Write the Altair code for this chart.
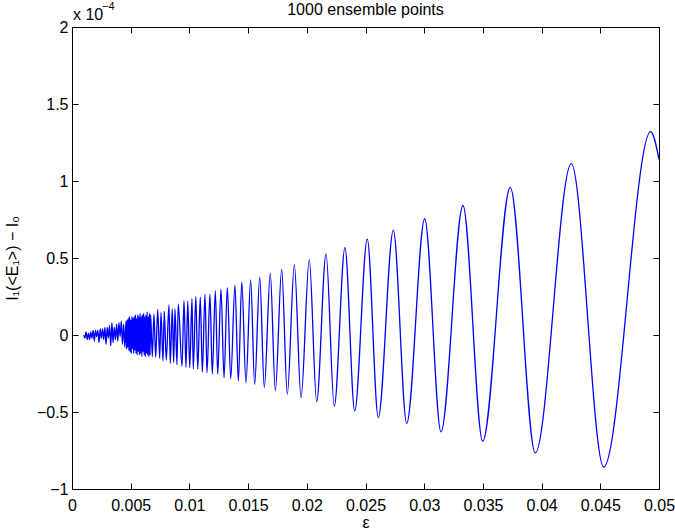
import altair as alt
import pandas as pd

# ---- data (values in units of 1e-4) ----
# irregular, aliased start of the curve
eps_left = [0.0010, 0.0011, 0.0012, 0.0013, 0.0014, 0.0015, 0.0016, 0.0017, 0.0018, 0.0019,
            0.0020, 0.0021, 0.0022, 0.0023, 0.0024, 0.0025, 0.0026, 0.0027, 0.0028, 0.0029,
            0.0030, 0.0031, 0.0032, 0.0033, 0.0034, 0.0035, 0.0036, 0.0037, 0.0038, 0.0039,
            0.0040, 0.0041, 0.0042, 0.0043, 0.0044, 0.0045, 0.0046]
val_left = [0.00, -0.02, 0.02, -0.03, 0.01, -0.03, 0.02, -0.02, 0.03, -0.04,
            0.03, -0.01, 0.03, -0.05, 0.04, -0.02, 0.04, -0.03, 0.05, -0.06,
            0.05, -0.02, 0.06, -0.07, 0.08, -0.05, 0.05, -0.03, 0.07, -0.04,
            0.08, -0.01, 0.09, -0.06, 0.07, -0.08, 0.09]

# dense, nearly filled band
eps_band = [0.00465, 0.00470, 0.00475, 0.00480, 0.00485, 0.00490, 0.00495, 0.00500,
            0.00505, 0.00510, 0.00515, 0.00520, 0.00525, 0.00530, 0.00535, 0.00540,
            0.00545, 0.00550, 0.00555, 0.00560, 0.00565, 0.00570, 0.00575, 0.00580,
            0.00585, 0.00590, 0.00595, 0.00600, 0.00605, 0.00610, 0.00615, 0.00620,
            0.00625, 0.00630, 0.00635, 0.00640, 0.00645, 0.00650, 0.00655, 0.00660,
            0.00665, 0.00670, 0.00684]
val_band = [-0.09, 0.10, -0.08, 0.11, -0.10, 0.12, -0.11, 0.10,
            -0.12, 0.12, -0.09, 0.11, -0.12, 0.12, -0.10, 0.13,
            -0.12, 0.11, -0.13, 0.13, -0.11, 0.12, -0.13, 0.14,
            -0.12, 0.12, -0.14, 0.13, -0.11, 0.14, -0.13, 0.12,
            -0.14, 0.13, -0.12, 0.15, -0.13, 0.12, -0.14, 0.14,
            -0.13, 0.13, -0.14]

# successive peaks and troughs of the regular oscillation
eps_wave = [0.00698, 0.00713, 0.00730, 0.00747, 0.00758, 0.00775, 0.00786, 0.00803,
            0.00826, 0.00837, 0.00854, 0.00866, 0.00877, 0.00894, 0.00905, 0.00937,
            0.00954, 0.00971, 0.00986, 0.01003, 0.01022, 0.01033, 0.01055, 0.01071,
            0.01093, 0.01110, 0.01133, 0.01150, 0.01175, 0.01195, 0.01221, 0.01241,
            0.01269, 0.01295, 0.01323, 0.01352, 0.01388, 0.01417, 0.01446, 0.01482,
            0.01522, 0.01556, 0.01599, 0.01638, 0.01689, 0.01732, 0.01786, 0.01834,
            0.01894, 0.01951, 0.02021, 0.02084, 0.02164, 0.02234, 0.02325, 0.02408,
            0.02515, 0.02609, 0.02737, 0.02851, 0.03004, 0.03143, 0.03330, 0.03498,
            0.03733, 0.03946, 0.04253, 0.04529, 0.04929, 0.05000]
val_wave = [0.135, -0.145, 0.167, -0.152, 0.145, -0.167, 0.154, -0.163,
            0.195, -0.184, 0.169, -0.180, 0.169, -0.193, 0.200, -0.204,
            0.223, -0.210, 0.221, -0.213, 0.236, -0.221, 0.250, -0.223,
            0.245, -0.241, 0.265, -0.245, 0.265, -0.254, 0.288, -0.256,
            0.297, -0.278, 0.308, -0.284, 0.323, -0.299, 0.343, -0.310,
            0.358, -0.321, 0.375, -0.341, 0.401, -0.362, 0.427, -0.384,
            0.455, -0.406, 0.488, -0.432, 0.527, -0.462, 0.568, -0.494,
            0.622, -0.536, 0.681, -0.575, 0.755, -0.629, 0.841, -0.690,
            0.958, -0.766, 1.113, -0.857, 1.321, 1.140]

x_ticks = [0, 0.005, 0.01, 0.015, 0.02, 0.025, 0.03, 0.035, 0.04, 0.045, 0.05]
y_ticks = [-1, -0.5, 0, 0.5, 1, 1.5, 2]

title_text = "1000 ensemble points"
x_title = "ε"
y_title = "I₁(<E₁>) − I₀"
exponent_base = "x 10"
exponent_power = "−4"

df = pd.DataFrame({"eps": eps_left + eps_band + eps_wave,
                   "val": val_left + val_band + val_wave})

W, H = 587, 462
FONT = "Liberation Sans"
xs = alt.Scale(domain=[0, 0.05], nice=False, zero=False)
ys = alt.Scale(domain=[-1, 2], nice=False, zero=False)

main = alt.Chart(df).mark_line(color="#0000ff", strokeWidth=1.3, interpolate="monotone").encode(
    x=alt.X("eps:Q", scale=xs, axis=alt.Axis(
        orient="bottom", values=x_ticks, format="~g", title=x_title, domain=False, ticks=False,
        grid=False, labelFont=FONT, labelFontSize=16, labelColor="black", labelPadding=8,
        labelFlush=False, labelOverlap=False,
        titleFont=FONT, titleFontSize=16, titleFontWeight="normal", titleColor="black",
        titleX=W / 2, titleY=38, titleBaseline="alphabetic", titleAlign="center")),
    y=alt.Y("val:Q", scale=ys, axis=alt.Axis(
        orient="left", values=y_ticks, format="~g", title=y_title, domain=False, ticks=False,
        grid=False, labelFont=FONT, labelFontSize=16, labelColor="black", labelPadding=4,
        labelFlush=False, labelOverlap=False,
        titleFont=FONT, titleFontSize=16, titleFontWeight="normal", titleColor="black",
        titleX=-55, titleY=H / 2, titleAngle=270, titleBaseline="alphabetic", titleAlign="center")),
)

def tick_layer(xo, yo):
    return alt.Chart(df).mark_line(strokeOpacity=0).encode(
        x=alt.X("eps:Q", scale=xs, axis=alt.Axis(
            orient=xo, offset=-6, values=x_ticks, labels=False, domain=False, ticks=True,
            tickSize=6, tickColor="black", tickWidth=1, grid=False, title=None)),
        y=alt.Y("val:Q", scale=ys, axis=alt.Axis(
            orient=yo, offset=-6, values=y_ticks, labels=False, domain=False, ticks=True,
            tickSize=6, tickColor="black", tickWidth=1, grid=False, title=None)),
    )

ticks_bl = tick_layer("bottom", "left")
ticks_tr = tick_layer("top", "right")

title_mark = alt.Chart(pd.DataFrame({"t": [title_text]})).mark_text(
    font=FONT, fontSize=16, align="center", baseline="alphabetic", color="black"
).encode(text="t:N", x=alt.value(W / 2), y=alt.value(-12))

exp_base = alt.Chart(pd.DataFrame({"t": [exponent_base]})).mark_text(
    font=FONT, fontSize=16, align="left", baseline="alphabetic", color="black"
).encode(text="t:N", x=alt.value(1), y=alt.value(-7))

exp_pow = alt.Chart(pd.DataFrame({"t": [exponent_power]})).mark_text(
    font=FONT, fontSize=11, align="left", baseline="alphabetic", color="black"
).encode(text="t:N", x=alt.value(30), y=alt.value(-17))

chart = alt.layer(main, ticks_bl, ticks_tr, title_mark, exp_base, exp_pow).resolve_axis(
    x="independent", y="independent"
).properties(
    width=W, height=H,
    autosize=alt.AutoSizeParams(type="none"),
    padding={"left": 72, "top": 27, "right": 16, "bottom": 42},
    background="white",
).configure_view(stroke="black", strokeWidth=1)

chart.save("out.html", embed_options={"renderer": "svg", "actions": False})
